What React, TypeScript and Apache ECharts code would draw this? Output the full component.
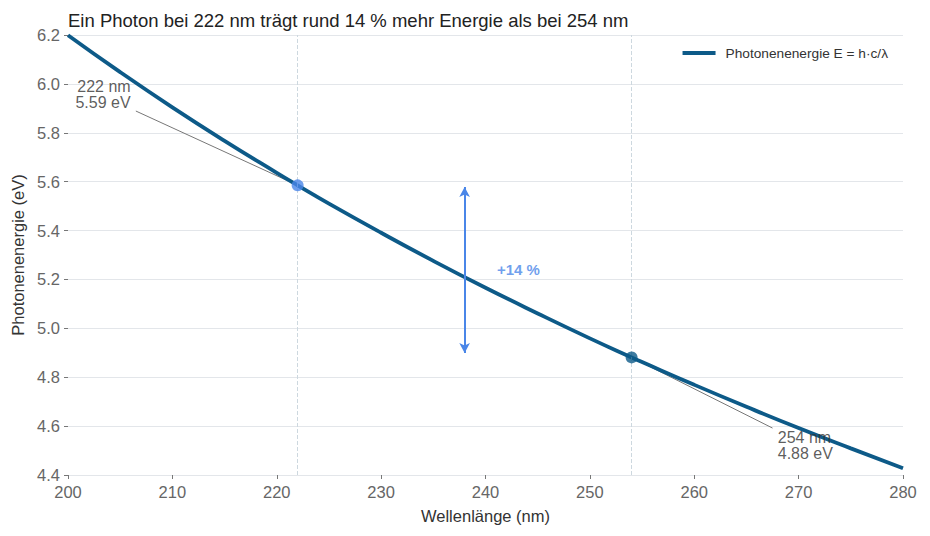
import React, { useEffect, useRef } from 'react';
import * as echarts from 'echarts';

const wavelengths = [200, 205, 210, 215, 220, 222, 225, 230, 235, 240, 245, 250, 254, 255, 260, 265, 270, 275, 280];
const energies = [6.199, 6.048, 5.904, 5.767, 5.636, 5.585, 5.51, 5.391, 5.276, 5.166, 5.061, 4.959, 4.881, 4.862, 4.769, 4.679, 4.592, 4.509, 4.428];

const markedWavelengths = [222, 254];
const markedEnergies = [5.585, 4.881];
const markedLabels = ['222 nm\n5.59 eV', '254 nm\n4.88 eV'];

const FONT = 'Liberation Sans, Arial, sans-serif';
const DARK = '#0d5a88';
const LIGHT = '#4a86e8';

const App: React.FC = () => {
  const chartRef = useRef<HTMLDivElement>(null);

  useEffect(() => {
    const chart = echarts.init(chartRef.current!, null, { renderer: 'svg' });

    const option = {
      animation: false,
      textStyle: { fontFamily: FONT },
      title: {
        text: 'Ein Photon bei 222 nm trägt rund 14 % mehr Energie als bei 254 nm',
        left: 55,
        top: -2,
        textStyle: { fontSize: 18.5, fontWeight: 'normal', color: '#222', fontFamily: FONT },
      },
      legend: {
        right: 29,
        top: 33,
        icon: 'rect',
        itemWidth: 33,
        itemHeight: 4,
        itemGap: 10,
        textStyle: { fontSize: 13.7, color: '#333', fontFamily: FONT, padding: [0, 0, 0, 5] },
        data: ['Photonenenergie E = h·c/λ'],
      },
      grid: { left: 60, right: 19, top: 27, bottom: 53, outerBoundsMode: 'none' },
      xAxis: {
        type: 'value',
        min: 200,
        max: 280,
        interval: 10,
        name: 'Wellenlänge (nm)',
        nameLocation: 'middle',
        nameGap: 32,
        nameTextStyle: { fontSize: 16.5, color: '#333' },
        axisLine: { show: false },
        axisTick: { show: true, length: 4, lineStyle: { color: '#777' } },
        axisLabel: { fontSize: 16.5, color: '#666', margin: 8 },
        splitLine: { show: false },
      },
      yAxis: {
        type: 'value',
        min: 4.4,
        max: 6.2,
        interval: 0.2,
        name: 'Photonenenergie (eV)',
        nameLocation: 'middle',
        nameGap: 39,
        nameTextStyle: { fontSize: 16.5, color: '#333' },
        axisLine: { show: false },
        axisTick: { show: true, length: 4, lineStyle: { color: '#777' } },
        axisLabel: { fontSize: 16.5, color: '#666', margin: 8, formatter: (v: number) => v.toFixed(1) },
        splitLine: { show: true, lineStyle: { color: '#e3e6ea', width: 1 } },
      },
      series: [
        {
          name: 'Photonenenergie E = h·c/λ',
          type: 'line',
          data: wavelengths.map((w, i) => [w, energies[i]]),
          smooth: true,
          showSymbol: false,
          symbol: 'none',
          lineStyle: { color: DARK, width: 3.8 },
          itemStyle: { color: DARK },
          z: 3,
          markLine: {
            silent: true,
            symbol: 'none',
            label: { show: false },
            lineStyle: { color: '#cdd8df', type: 'dashed', width: 1 },
            data: markedWavelengths.map((w) => ({ xAxis: w })),
          },
        },
        {
          name: 'leader',
          type: 'lines',
          coordinateSystem: 'cartesian2d',
          silent: true,
          z: 2,
          lineStyle: { color: '#777', width: 1, opacity: 1 },
          data: [
            { coords: [[206.5, 5.889], [markedWavelengths[0], markedEnergies[0]]] },
            { coords: [[267.5, 4.592], [markedWavelengths[1], markedEnergies[1]]] },
          ],
        },
        {
          name: 'punkte',
          type: 'scatter',
          symbolSize: 12,
          z: 5,
          data: [
            { value: [markedWavelengths[0], markedEnergies[0]], itemStyle: { color: LIGHT } },
            { value: [markedWavelengths[1], markedEnergies[1]], itemStyle: { color: DARK } },
          ],
        },
        {
          name: 'beschriftung',
          type: 'scatter',
          symbolSize: 0,
          silent: true,
          z: 6,
          data: [
            {
              value: [206.0, 5.955],
              label: { show: true, position: 'left', distance: 0, align: 'right', formatter: markedLabels[0] },
            },
            {
              value: [268.0, 4.52],
              label: { show: true, position: 'right', distance: 0, align: 'left', formatter: markedLabels[1] },
            },
            {
              value: [241.1, 5.24],
              label: {
                show: true,
                position: 'right',
                distance: 0,
                formatter: '+14 %',
                fontSize: 15,
                fontWeight: 'bold',
                color: LIGHT,
              },
            },
          ],
          label: { fontSize: 16, color: '#333', lineHeight: 16, fontFamily: FONT },
        },
        {
          name: 'pfeil',
          type: 'line',
          data: [],
          silent: true,
          markLine: {
            silent: true,
            symbol: ['arrow', 'arrow'],
            symbolSize: [8, 10],
            label: { show: false },
            lineStyle: { color: LIGHT, width: 2, type: 'solid' },
            data: [[{ coord: [238, 5.578] }, { coord: [238, 4.899] }]],
          },
        },
      ],
    };

    chart.setOption(option);

    return () => {
      chart.dispose();
    };
  }, []);

  return <div ref={chartRef} style={{ width: 914, height: 520 }} />;
};

export default App;
